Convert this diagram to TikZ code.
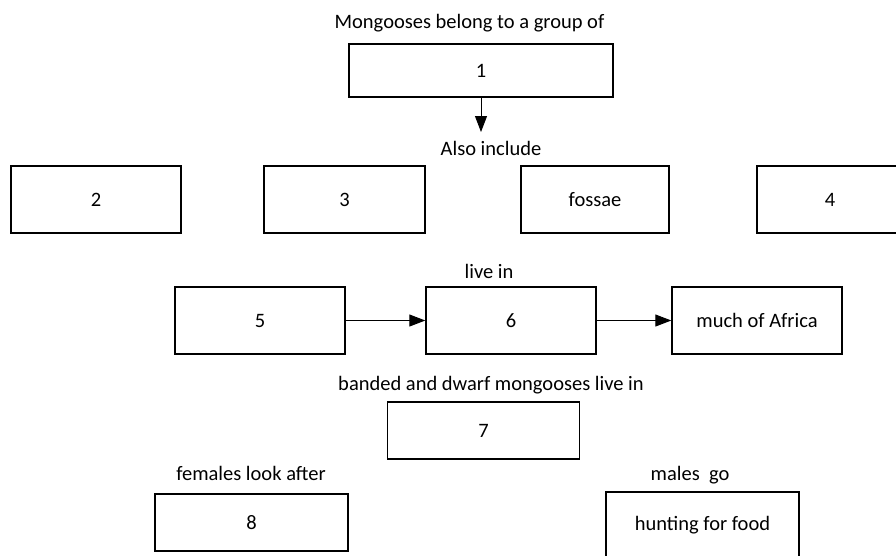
\documentclass[tikz,border=0pt]{standalone}
\usepackage{fontspec}
\setmainfont{Carlito}
\usetikzlibrary{arrows.meta}
\begin{document}
\begin{tikzpicture}[x=1pt,y=-1pt,
  box/.style={draw,line width=1.4pt,minimum width=#1,minimum height=67pt,inner sep=0pt,font=\fontsize{20.5}{24}\selectfont},
  lbl/.style={inner sep=0pt,font=\fontsize{20.5}{24}\selectfont},
  arr/.style={-{Triangle[length=16pt,width=12pt]},line width=0.9pt}]
\useasboundingbox (0,0) rectangle (896,555);
\node[lbl] (t1) at (469.5,23) {Mongooses belong to a group of};
\node[box=264pt,minimum height=53pt] (b1) at (481,70.5) {1};
\node[lbl] (t2) at (491,148) {Also include};
\coordinate (c1) at (481,132);
\draw[arr] (b1.south) -- (c1);
\node[box=170pt] (b2) at (96,199.5) {2};
\node[box=161pt] (b3) at (344.5,199.5) {3};
\node[box=148pt] (bf) at (595,199.5) {fossae};
\node[box=146pt] (b4) at (830,199.5) {4};
\node[lbl] (t3) at (489,271) {live in};
\node[box=170pt] (b5) at (260,320.5) {5};
\node[box=170pt] (b6) at (511,320.5) {6};
\node[box=170pt] (ba) at (757,320.5) {much of Africa};
\draw[arr] (b5.east) -- (b6.west);
\draw[arr] (b6.east) -- (ba.west);
\node[lbl] (t4) at (491,385) {banded and dwarf mongooses live in};
\node[box=192pt,minimum height=57pt] (b7) at (483.5,430.5) {7};
\node[lbl] (t5) at (251,473) {females look after};
\node[box=193pt,minimum height=57pt] (b8) at (251.5,522.5) {8};
\node[lbl] (t6) at (690,475) {males\ \ go};
\node[box=193pt] (bh) at (702.5,525.5) {hunting for food};
\end{tikzpicture}
\end{document}
